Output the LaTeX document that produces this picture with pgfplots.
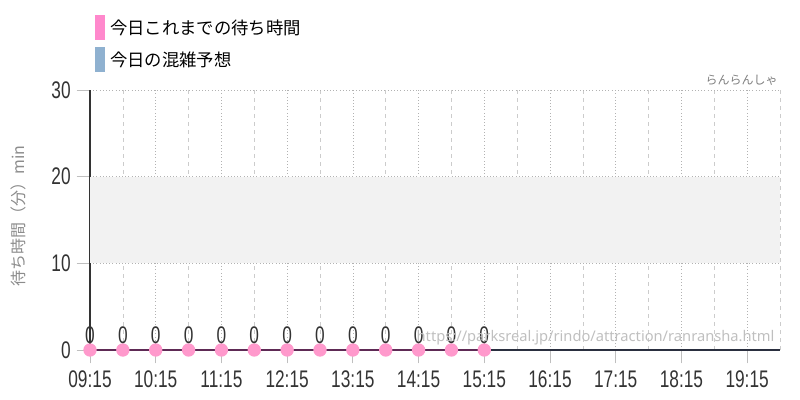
\documentclass[border=0pt]{standalone}
\usepackage{pgfplots}
\pgfplotsset{compat=1.18}
\usepackage{fontspec}
\setmainfont{Liberation Sans}
\newfontfamily\numfont[FakeStretch=0.72]{Liberation Sans}
\newfontfamily\cjk{Noto Sans CJK JP}
\newfontfamily\urlfont{Noto Sans}
\definecolor{pinkpt}{HTML}{FF99CC}
\definecolor{pinkleg}{HTML}{FF88CC}
\definecolor{blueleg}{HTML}{8FB1D0}
\definecolor{linepur}{HTML}{5E2A55}
\definecolor{axdark}{HTML}{2A2F3F}
\definecolor{bandgray}{HTML}{F2F2F2}
\definecolor{txtdark}{HTML}{333333}
\begin{document}
\begin{tikzpicture}
\useasboundingbox (0,0) rectangle (600pt,300pt);
\begin{axis}[
  at={(67.5pt,37.5pt)}, anchor=south west,
  scale only axis, width=517.5pt, height=195pt,
  xmin=9.25, xmax=19.75, ymin=0, ymax=30,
  /pgf/number format/assume math mode=true,
  axis x line=bottom, axis y line=left,
  axis line style={-, line width=0.8pt},
  x axis line style={axdark},
  y axis line style={txtdark},
  xtick={9.25,10.25,11.25,12.25,13.25,14.25,15.25,16.25,17.25,18.25,19.25},
  xticklabels={\hbox{09:15},\hbox{10:15},\hbox{11:15},\hbox{12:15},\hbox{13:15},\hbox{14:15},\hbox{15:15},\hbox{16:15},\hbox{17:15},\hbox{18:15},\hbox{19:15}},
  minor xtick={9.75,10.75,11.75,12.75,13.75,14.75,15.75,16.75,17.75,18.75,19.75},
  ytick={0,10,20,30},
  tick align=outside, major tick length=10pt,
  tick style={gray!50, line width=0.6pt},
  minor tick length=0pt,
  xmajorgrids, xminorgrids, ymajorgrids,
  major grid style={gray!60, dotted, line width=0.5pt},
  minor x grid style={gray!40, dashed, line width=0.5pt},
  ticklabel style={font=\numfont\fontsize{18pt}{18pt}\selectfont, text=txtdark},
  xticklabel style={yshift=-2pt},
  yticklabel style={xshift=-1pt},
  clip=false,
]
\addplot[fill=bandgray, draw=none] coordinates {(9.25,10) (19.75,10) (19.75,20) (9.25,20)} -- cycle;
\addplot[linepur, line width=1pt, mark=*, mark size=4.5pt,
  mark options={draw=pinkpt, fill=pinkpt},
  nodes near coords,
  every node near coord/.append style={font=\numfont\fontsize{18pt}{18pt}\selectfont, text=txtdark, anchor=south, yshift=1pt}]
  coordinates {(9.25,0) (9.75,0) (10.25,0) (10.75,0) (11.25,0) (11.75,0) (12.25,0) (12.75,0) (13.25,0) (13.75,0) (14.25,0) (14.75,0) (15.25,0)};
\end{axis}
% legend
\fill[pinkleg] (71.25pt,270pt) rectangle (78.75pt,288.75pt);
\node[anchor=west, inner sep=0pt, text=black] at (82.5pt,279pt) {\cjk\fontsize{13pt}{13pt}\selectfont 今日これまでの待ち時間};
\fill[blueleg] (71.25pt,246pt) rectangle (78.75pt,264.75pt);
\node[anchor=west, inner sep=0pt, text=black] at (82.5pt,255pt) {\cjk\fontsize{13pt}{13pt}\selectfont 今日の混雑予想};
% subtitle
\node[anchor=east, inner sep=0pt, text=gray] at (583.5pt,240pt) {\cjk\fontsize{9pt}{9pt}\selectfont らんらんしゃ};
% y label
\node[rotate=90, inner sep=0pt, text=gray!90] at (13.5pt,138pt) {\cjk\fontsize{12pt}{12pt}\selectfont 待ち時間（分）min};
% watermark
\node[anchor=east, inner sep=0pt, text=gray!50] at (581pt,47pt) {\urlfont\fontsize{11pt}{11pt}\selectfont https://parksreal.jp/rindo/attraction/ranransha.html};
\end{tikzpicture}
\end{document}
